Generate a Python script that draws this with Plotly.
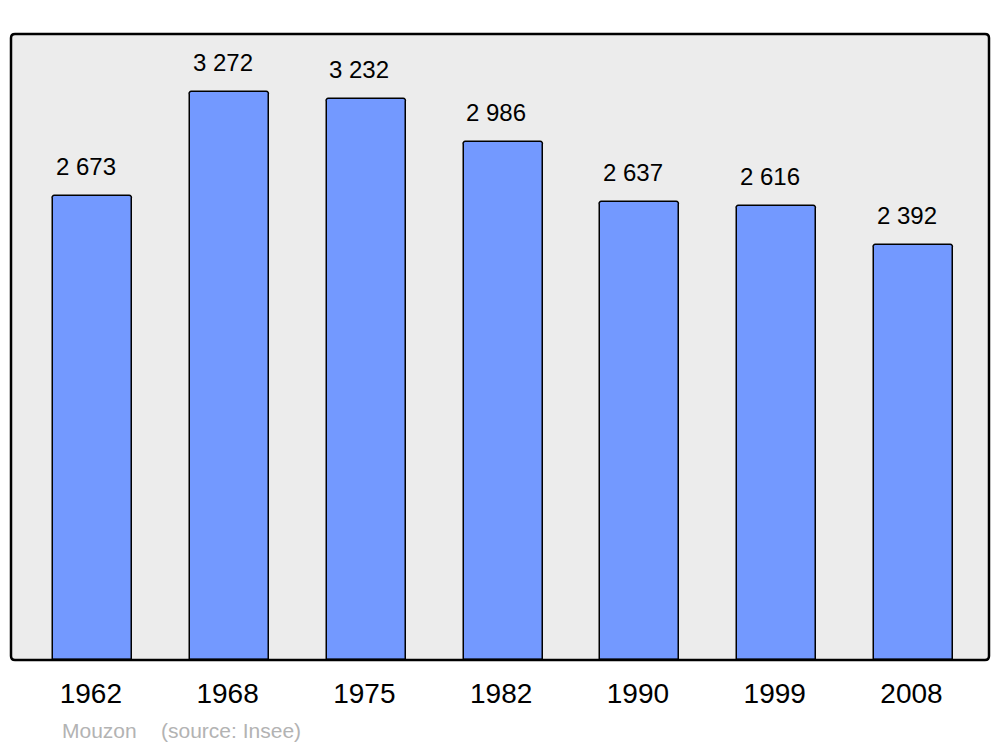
import plotly.graph_objects as go

years = ["1962", "1968", "1975", "1982", "1990", "1999", "2008"]
population = [2673, 3272, 3232, 2986, 2637, 2616, 2392]
value_labels = ["2 673", "3 272", "3 232", "2 986", "2 637", "2 616", "2 392"]

# page body has an 8px default margin
W, H = 992, 739
ml, mr, mt, mb = 3, 11, 26, 87
pw, ph = W - ml - mr, H - mt - mb

xs = list(range(len(years)))
FONT = "Liberation Sans, Arial, sans-serif"

fig = go.Figure()
fig.add_trace(go.Bar(
    x=xs, y=population, width=0.578,
    marker=dict(color="#7399ff", line=dict(color="#000000", width=1.5), cornerradius=3),
    hoverinfo="skip",
))

for i, (v, t) in enumerate(zip(population, value_labels)):
    fig.add_annotation(x=i, y=v, text=t, showarrow=False, xanchor="center", yanchor="bottom",
                       yshift=14, xshift=-7,
                       font=dict(family=FONT, size=24, color="#000000"))

fig.add_annotation(xref="paper", yref="paper", x=(60 - 11) / pw, y=-(730 - 660) / ph,
                   text="Mouzon", showarrow=False, xanchor="left", yanchor="middle",
                   font=dict(family=FONT, size=21, color="#b3b3b3"))
fig.add_annotation(xref="paper", yref="paper", x=(159 - 11) / pw, y=-(730 - 660) / ph,
                   text="(source: Insee)", showarrow=False, xanchor="left", yanchor="middle",
                   font=dict(family=FONT, size=21, color="#b3b3b3"))

# rounded border
rx, ry = 4 / pw, 4 / ph
path = (f"M {rx},0 L {1-rx},0 Q 1,0 1,{ry} L 1,{1-ry} Q 1,1 {1-rx},1 "
        f"L {rx},1 Q 0,1 0,{1-ry} L 0,{ry} Q 0,0 {rx},0 Z")
fig.add_shape(type="path", xref="paper", yref="paper", path=path,
              line=dict(color="#000000", width=2.5), layer="above")

fig.update_layout(
    width=W, height=H,
    margin=dict(l=ml, r=mr, t=mt, b=mb),
    paper_bgcolor="#ffffff", plot_bgcolor="#ececec",
    showlegend=False,
    xaxis=dict(range=[-0.598, 6.552], tickmode="array", tickvals=xs, ticktext=years,
               showgrid=False, zeroline=False, ticks="outside", ticklen=8,
               tickcolor="rgba(0,0,0,0)", ticklabelshift=-2,
               tickfont=dict(family=FONT, size=28, color="#000000")),
    yaxis=dict(range=[0, 3606], showgrid=False, zeroline=False, showticklabels=False),
    bargap=0,
)

fig.write_html("out.html")
